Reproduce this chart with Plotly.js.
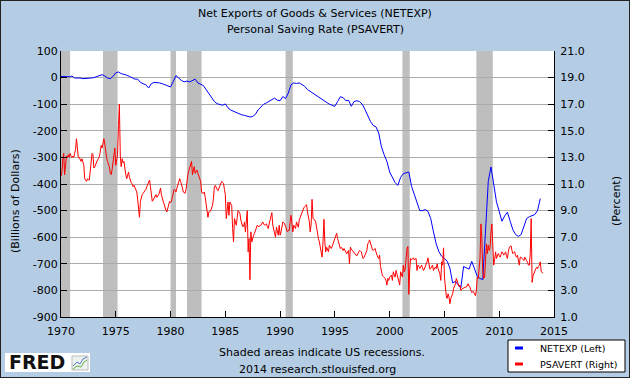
<!DOCTYPE html>
<html>
<head>
<meta charset="utf-8">
<script src="https://cdn.plot.ly/plotly-3.0.1.min.js"></script>
<style>
html,body{margin:0;padding:0;background:#b4cde4;}
#wrap{position:relative;width:630px;height:378px;}
#chart{width:630px;height:378px;}
#frame{position:absolute;left:0;top:0;width:630px;height:378px;box-sizing:border-box;border:1px solid #222;pointer-events:none;}
</style>
</head>
<body>
<div id="wrap"><div id="chart"></div><div id="frame"></div></div>
<script>
// ---------- DATA ----------
// NETEXP, quarterly, 1970Q1 .. 2013Q4 (billions of dollars)
const netexpStart = 1970;
const netexp = [
  4.5, 5.5, 4.0, 3.0,
  5.7, -1.6, -1.0, -1.6,
  -4.0, -4.0, -3.0, -1.6,
  0.0, 3.0, 7.0, 11.0,
  6.0, -1.6, -4.0, 4.5,
  18.0, 21.0, 15.0, 13.0,
  9.0, 4.5, 0.0, -5.7,
  -5.7, -18.0, -23.0, -27.0,
  -39.0, -23.0, -18.0, -18.0,
  -20.0, -23.0, -27.0, -30.0,
  -35.0, -14.0, 7.7, -2.0,
  -11.0, -16.0, -13.0, -16.0,
  -10.0, -6.0, -20.0, -24.0,
  -30.0, -45.0, -60.0, -72.0,
  -90.0, -98.0, -102.0, -104.0,
  -99.0, -114.0, -122.0, -127.0,
  -130.0, -136.0, -140.0, -142.0,
  -146.0, -148.0, -146.0, -138.0,
  -121.0, -110.0, -100.0, -95.0,
  -88.0, -83.0, -77.0, -85.0,
  -87.0, -71.0, -79.0, -58.0,
  -27.0, -20.0, -22.0, -20.0,
  -25.0, -33.0, -45.0, -52.0,
  -58.0, -65.0, -72.0, -80.0,
  -89.0, -95.0, -100.0, -104.0,
  -108.0, -90.0, -72.0, -75.0,
  -87.0, -85.0, -108.0, -90.0,
  -87.0, -90.0, -100.0, -120.0,
  -146.0, -165.0, -180.0, -185.0,
  -208.0, -260.0, -290.0, -315.0,
  -355.0, -375.0, -395.0, -405.0,
  -375.0, -361.0, -358.0, -355.0,
  -409.0, -440.0, -471.0, -500.0,
  -500.0, -496.0, -503.0, -530.0,
  -580.0, -625.0, -655.0, -672.0,
  -680.0, -690.0, -716.0, -772.0,
  -766.0, -779.0, -791.0, -710.0,
  -716.0, -720.0, -691.0, -722.0,
  -747.0, -755.0, -760.0, -577.0,
  -390.0, -336.0, -400.0, -467.0,
  -503.0, -540.0, -520.0, -506.0,
  -540.0, -572.0, -590.0, -597.0,
  -590.0, -560.0, -530.0, -523.0,
  -520.0, -515.0, -500.0, -455.0
];

// PSAVERT, monthly, 1970-01 .. 2014-01 (percent)
const psavertStart = 1970;
const psavert = [
  11.6, 11.9, 12.8, 13.3, 11.7, 12.7, 13.1, 13.0, 13.2, 13.0, 13.3, 13.1,
  13.0, 13.1, 13.0, 13.3, 13.6, 14.4, 13.9, 13.0, 13.0, 12.8, 12.7, 12.9,
  12.6, 12.4, 11.4, 11.3, 11.2, 11.4, 11.3, 11.3, 11.9, 12.4, 13.3, 13.2,
  12.2, 12.3, 12.5, 12.6, 12.8, 12.9, 13.05, 13.4, 13.9, 13.7, 14.1, 14.4,
  14.0, 13.2, 13.0, 12.7, 12.5, 12.3, 11.8, 11.7, 12.1, 12.6, 13.3, 13.7,
  12.4, 12.7, 13.2, 15.4, 17.0, 13.1, 12.3, 12.9, 12.6, 12.7, 11.9, 11.7,
  11.4, 11.6, 11.9, 11.5, 11.2, 11.1, 11.0, 10.8, 10.9, 10.7, 10.5, 10.4,
  9.8, 9.0, 8.5, 9.7, 10.0, 10.2, 10.3, 10.4, 10.5, 10.6, 10.8, 11.0,
  11.1, 11.3, 10.8, 10.3, 9.7, 9.8, 9.9, 10.1, 10.2, 10.0, 10.1, 10.2,
  10.4, 10.7, 10.2, 9.8, 9.7, 9.5, 9.2, 9.0, 8.9, 9.2, 9.5, 9.7,
  9.6, 9.7, 10.0, 10.3, 10.6, 10.5, 10.4, 10.7, 10.9, 11.1, 11.4, 11.2,
  11.0, 10.7, 10.4, 10.3, 10.3, 10.6, 11.5, 11.7, 12.0, 12.3, 12.55, 12.7,
  11.7, 12.0, 12.3, 11.8, 12.0, 12.05, 11.8, 11.55, 11.3, 11.2, 10.4, 10.3,
  10.3, 10.4, 10.0, 9.4, 8.9, 8.5, 8.9, 8.9, 9.0, 9.2, 9.4, 9.9,
  10.8, 10.9, 10.7, 10.6, 10.5, 10.7, 10.8, 11.0, 11.2, 11.1, 11.05, 10.6,
  10.2, 8.4, 9.0, 9.65, 8.65, 9.65, 9.5, 9.4, 7.65, 6.65, 8.4, 8.2,
  7.9, 8.5, 9.0, 8.9, 8.8, 8.3, 8.0, 7.8, 7.8, 8.15, 7.4, 8.65,
  9.0, 5.9, 6.9, 3.8, 7.4, 6.65, 7.0, 7.15, 7.3, 7.5, 7.65, 7.9,
  7.8, 7.8, 7.85, 7.9, 8.0, 8.15, 8.0, 7.9, 7.95, 8.0, 7.8, 7.65,
  8.0, 8.3, 8.6, 8.85, 7.9, 7.65, 7.4, 7.0, 7.75, 7.5, 7.15, 7.9,
  7.15, 7.4, 7.65, 8.15, 8.1, 8.0, 7.8, 7.65, 7.4, 7.5, 7.5, 8.15,
  8.65, 8.0, 7.4, 7.9, 7.8, 7.65, 8.15, 7.9, 7.75, 8.3, 8.5, 8.75,
  8.9, 9.1, 9.2, 9.3, 9.4, 9.45, 8.9, 8.5, 8.15, 7.4, 8.0, 9.85,
  8.4, 8.35, 8.3, 8.15, 7.6, 7.15, 6.9, 6.65, 6.15, 5.8, 5.5, 6.65,
  8.35, 6.6, 5.9, 6.25, 6.0, 5.9, 6.4, 6.3, 6.15, 6.3, 6.5, 6.65,
  6.8, 7.0, 7.3, 6.9, 6.65, 6.4, 6.15, 6.25, 6.1, 6.0, 6.15, 6.0,
  5.9, 5.75, 5.9, 6.0, 5.0, 6.25, 6.1, 6.0, 5.9, 5.85, 5.75, 5.7,
  5.6, 5.75, 5.9, 6.0, 5.95, 5.9, 5.6, 5.4, 5.5, 5.65, 5.8, 6.0,
  6.5, 6.6, 6.8, 6.5, 6.25, 6.1, 6.0, 6.1, 6.15, 5.9, 5.65, 5.5,
  5.4, 5.65, 4.8, 4.4, 4.15, 4.05, 4.0, 3.9, 3.75, 3.4, 3.9, 3.75,
  4.0, 4.1, 4.15, 3.75, 4.4, 4.2, 4.0, 4.5, 4.2, 4.0, 3.75, 3.4,
  4.4, 4.2, 4.0, 4.9, 4.4, 4.6, 5.65, 6.15, 6.3, 2.7, 4.6, 5.4,
  5.3, 5.35, 5.45, 5.3, 5.35, 5.4, 4.5, 4.9, 4.8, 4.65, 4.75, 4.9,
  4.7, 4.5, 4.6, 4.75, 5.0, 5.15, 5.45, 4.75, 4.6, 4.65, 4.8, 4.9,
  4.5, 4.6, 4.75, 4.65, 5.0, 4.65, 4.4, 4.25, 3.75, 5.15, 4.9, 6.2,
  4.0, 2.75, 2.6, 2.4, 2.75, 2.5, 2.0, 2.4, 2.6, 2.75, 3.15, 3.3,
  3.5, 3.9, 3.65, 3.4, 3.3, 3.4, 3.0, 3.1, 3.15, 3.2, 3.2, 3.25,
  3.25, 3.4, 3.5, 3.3, 3.25, 3.0, 2.85, 2.9, 2.9, 2.7, 2.6, 3.0,
  4.0, 3.9, 4.65, 5.4, 8.0, 6.9, 4.4, 3.9, 4.0, 4.9, 6.5, 5.77,
  6.4, 6.0, 6.2, 7.4, 8.0, 6.4, 4.9, 5.3, 5.9, 5.4, 5.6, 5.77,
  5.6, 5.5, 5.7, 5.9, 5.8, 5.65, 5.75, 5.9, 5.6, 5.4, 5.9, 6.25,
  6.3, 6.35, 6.0, 5.77, 5.85, 5.9, 5.6, 5.5, 5.65, 5.3, 4.9, 5.5,
  5.5, 5.4, 5.3, 5.25, 5.5, 5.4, 5.25, 5.1, 4.9, 4.9, 5.77, 8.4,
  3.6, 4.1, 4.3, 4.5, 4.6, 4.75, 4.65, 4.8, 4.9, 5.15, 4.4, 4.35,
  4.3
];

// US recessions (NBER), start / end
const recessionStart = ['1969-12-01','1973-11-01','1980-01-01','1981-07-01','1990-07-01','2001-03-01','2007-12-01'];
const recessionEnd   = ['1970-11-01','1975-03-01','1980-07-01','1982-11-01','1991-03-01','2001-11-01','2009-06-01'];

const leftTicks  = [100, 0, -100, -200, -300, -400, -500, -600, -700, -800, -900];
const rightTicks = [21, 19, 17, 15, 13, 11, 9, 7, 5, 3, 1];

// ---------- DATES ----------
function pad(n){return (n<10?'0':'')+n;}
const netexpDates = netexp.map((_,i)=>{const y=netexpStart+Math.floor(i/4);const m=(i%4)*3+1;return y+'-'+pad(m)+'-01';});
const psavertDates = psavert.map((_,i)=>{const y=psavertStart+Math.floor(i/12);const m=i%12+1;return y+'-'+pad(m)+'-01';});

// ---------- LAYOUT HELPERS (pixel -> paper) ----------
const W=630,H=378,PL=61,PT=51,PR=554,PB=317;
const PW=PR-PL, PH=PB-PT;
const fx = p => (p-PL)/PW;
const fy = p => (PB-p)/PH;

const FONT = 'DejaVu Sans, Verdana, sans-serif';

const shapes = recessionStart.map((s,i)=>({
  type:'rect', xref:'x', yref:'paper', x0:s, x1:recessionEnd[i], y0:0, y1:1,
  fillcolor:'#bebebe', line:{width:0}, layer:'between'
}));

// legend box
shapes.push({type:'rect',xref:'paper',yref:'paper',x0:fx(508),x1:fx(625),y0:fy(340),y1:fy(372),
  fillcolor:'#ffffff',line:{color:'#000',width:1},layer:'above'});
shapes.push({type:'line',xref:'paper',yref:'paper',x0:fx(515),x1:fx(523),y0:fy(348),y1:fy(348),
  line:{color:'#0000ff',width:3},layer:'above'});
shapes.push({type:'line',xref:'paper',yref:'paper',x0:fx(515),x1:fx(523),y0:fy(364),y1:fy(364),
  line:{color:'#ff0000',width:3},layer:'above'});
// FRED logo box + icon
shapes.push({type:'rect',xref:'paper',yref:'paper',x0:fx(5),x1:fx(90),y0:fy(353),y1:fy(372),
  fillcolor:'#ffffff',line:{width:0},layer:'above'});
shapes.push({type:'rect',xref:'paper',yref:'paper',x0:fx(72),x1:fx(88),y0:fy(356),y1:fy(370),
  fillcolor:'#eef2ee',line:{color:'#bbbbbb',width:1},layer:'above'});
shapes.push({type:'path',xref:'paper',yref:'paper',
  path:'M'+fx(73)+','+fy(366)+' L'+fx(77)+','+fy(362)+' L'+fx(80)+','+fy(364)+' L'+fx(83)+','+fy(359)+' L'+fx(87)+','+fy(357),
  line:{color:'#5577cc',width:1},layer:'above'});
shapes.push({type:'path',xref:'paper',yref:'paper',
  path:'M'+fx(73)+','+fy(369)+' L'+fx(77)+','+fy(366)+' L'+fx(81)+','+fy(367)+' L'+fx(84)+','+fy(362)+' L'+fx(87)+','+fy(360),
  line:{color:'#66aa44',width:1},layer:'above'});

function ann(text,x,y,opts){
  return Object.assign({text:text,xref:'paper',yref:'paper',x:fx(x),y:fy(y),showarrow:false,
    xanchor:'center',yanchor:'middle',font:{family:FONT,size:11,color:'#000'}},opts||{});
}

const annotations = [
  ann('Net Exports of Goods &amp; Services (NETEXP)',315,13),
  ann('Personal Saving Rate (PSAVERT)',315,30),
  ann('(Billions of Dollars)',15,201,{textangle:-90}),
  ann('(Percent)',616,201,{textangle:-90}),
  ann('Shaded areas indicate US recessions.',322,352),
  ann('2014 research.stlouisfed.org',317,369),
  ann('NETEXP (Left)',538,348,{xanchor:'left',font:{family:FONT,size:9.5,color:'#000'}}),
  ann('PSAVERT (Right)',538,364,{xanchor:'left',font:{family:FONT,size:9.5,color:'#000'}}),
  ann('<b>FRED</b>',37,362,{font:{family:'DejaVu Sans, sans-serif',size:19,color:'#111'}})
];

const traces = [
  {x:netexpDates,y:netexp,type:'scatter',mode:'lines',name:'NETEXP (Left)',
   line:{color:'#0000ff',width:1},yaxis:'y',hoverinfo:'skip'},
  {x:psavertDates,y:psavert,type:'scatter',mode:'lines',name:'PSAVERT (Right)',
   line:{color:'#ff0000',width:1},yaxis:'y2',hoverinfo:'skip'}
];

const axisCommon = {ticks:'inside',ticklen:6,tickwidth:1,tickcolor:'#000',showline:true,linecolor:'#000',linewidth:1,
  zeroline:false,tickfont:{family:FONT,size:11,color:'#000'},fixedrange:true};

const layout = {
  width:W,height:H,
  paper_bgcolor:'#b4cde4',plot_bgcolor:'#ffffff',
  margin:{l:PL,r:W-PR,t:PT,b:H-PB,pad:0},
  showlegend:false,
  font:{family:FONT,size:11,color:'#000'},
  xaxis:Object.assign({},axisCommon,{type:'date',range:['1970-01-01','2015-01-01'],
    tick0:'1970-01-01',dtick:'M60',tickformat:'%Y',showgrid:false,ticklabelstandoff:4}),
  yaxis:Object.assign({},axisCommon,{range:[-900,100],tickmode:'array',tickvals:leftTicks,
    ticktext:leftTicks.map(String),showgrid:true,gridcolor:'#ababab',gridwidth:1}),
  yaxis2:Object.assign({},axisCommon,{overlaying:'y',side:'right',range:[1,21],tickmode:'array',
    tickvals:rightTicks,ticktext:rightTicks.map(v=>v.toFixed(1)),showgrid:false,ticklabelstandoff:3}),
  shapes:shapes,
  annotations:annotations
};

Plotly.newPlot('chart',traces,layout,{staticPlot:true,displayModeBar:false});
</script>
</body>
</html>
